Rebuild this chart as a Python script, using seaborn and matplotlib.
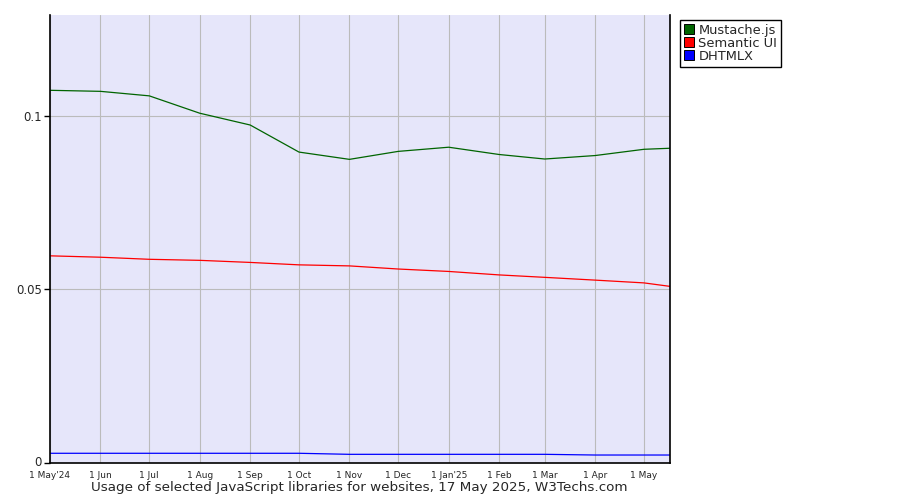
import numpy as np
import pandas as pd
import seaborn as sns
from matplotlib import pyplot as plt
from matplotlib.lines import Line2D
from matplotlib.transforms import ScaledTranslation

sns.set_style("ticks")
plt.rcParams['font.family'] = ['DejaVu Sans']

dates = pd.to_datetime(["2024-05-01", "2024-06-01", "2024-07-01", "2024-08-01", "2024-09-01",
                        "2024-10-01", "2024-11-01", "2024-12-01", "2025-01-01", "2025-02-01",
                        "2025-03-01", "2025-04-01", "2025-05-01", "2025-05-17"])
mustache = [0.1074, 0.1071, 0.1058, 0.1008, 0.0974, 0.0896, 0.0875, 0.0898, 0.0910, 0.0889,
            0.0876, 0.0886, 0.0904, 0.0907]
semantic = [0.0597, 0.0593, 0.0587, 0.0584, 0.0578, 0.0571, 0.0568, 0.0559, 0.0552, 0.0542,
            0.0535, 0.0527, 0.0519, 0.0509]
dhtmlx = [0.0028, 0.0028, 0.0028, 0.0028, 0.0028, 0.0028, 0.0025, 0.0025, 0.0025, 0.0025,
          0.0025, 0.0023, 0.0023, 0.0023]
names = ["Mustache.js", "Semantic UI", "DHTMLX"]
colors = ["#006400", "#FF0000", "#0000FF"]
tick_dates = dates[:-1]
tick_labels = ["1 May'24", "1 Jun", "1 Jul", "1 Aug", "1 Sep", "1 Oct", "1 Nov", "1 Dec",
               "1 Jan'25", "1 Feb", "1 Mar", "1 Apr", "1 May"]

df = pd.DataFrame({"date": list(dates) * 3,
                   "share": mustache + semantic + dhtmlx,
                   "lib": np.repeat(names, len(dates))})

fig = plt.figure(figsize=(9, 5), dpi=100)
ax = fig.add_axes([50/900, 37/500, 620/900, 448/500])
ax.set_facecolor("#E6E6FA")
ax.grid(True, color="#BBBBBB", linewidth=0.8)
ax.set_axisbelow(True)

sns.lineplot(data=df, x="date", y="share", hue="lib", palette=dict(zip(names, colors)),
             linewidth=0.9, legend=False, ax=ax)

ax.set_xlim(dates[0], dates[-1])
ax.set_ylim(0, 0.1291)
ax.set_xticks(tick_dates)
ax.set_xticklabels(tick_labels, fontsize=6.5)
ax.set_yticks([0, 0.05, 0.1])
ax.set_yticklabels(["0", "0.05", "0.1"], fontsize=8.5)
ax.tick_params(axis="x", length=0, pad=5.5)
ax.tick_params(axis="y", length=4, width=1, color="black", pad=2)
# nudge the "0" label up a little so it clears the first date label
zero = ax.get_yticklabels()[0]
zero.set_transform(zero.get_transform() + ScaledTranslation(0, 2.5/100, fig.dpi_scale_trans))
ax.set_xlabel("")
ax.set_ylabel("")
for s in ["left", "bottom", "right"]:
    ax.spines[s].set_color("black")
    ax.spines[s].set_linewidth(1.2)
ax.spines["top"].set_visible(False)

fig.text(0.399, 0.024, "Usage of selected JavaScript libraries for websites, 17 May 2025, W3Techs.com",
         ha="center", va="center", fontsize=9.7)

handles = [Line2D([], [], linestyle="none", marker="s", markersize=7, markerfacecolor=c,
                  markeredgecolor="black", markeredgewidth=0.7) for c in colors]
leg = fig.legend(handles, names, loc="upper left", bbox_to_anchor=(680/900, 1 - 20/500),
                 fontsize=9.4, frameon=True, fancybox=False, framealpha=1, edgecolor="black",
                 borderpad=0.3, labelspacing=0.0, handletextpad=0.3, handlelength=0.8,
                 borderaxespad=0)
leg.get_frame().set_linewidth(1.0)

fig.savefig("out.png", dpi=100, facecolor="white")
